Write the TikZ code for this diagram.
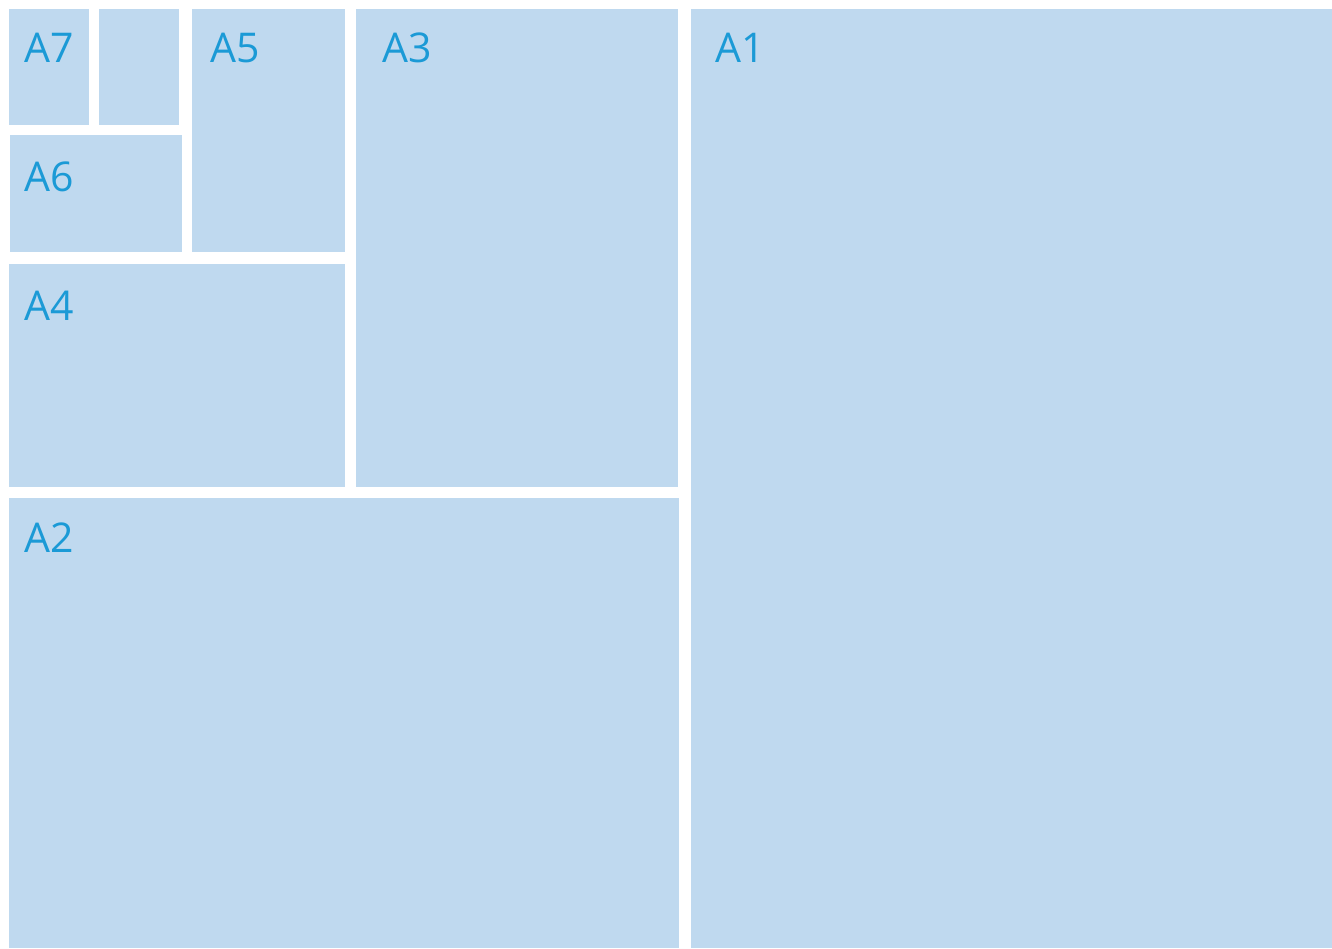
\documentclass[tikz,border=0pt]{standalone}
\usepackage{fontspec}
\setmainfont{Open Sans}
\definecolor{boxfill}{HTML}{BFD9EF}
\definecolor{labelc}{HTML}{1B9AD6}
\begin{document}
\begin{tikzpicture}[x=1pt,y=-1pt,
  cell/.style={fill=boxfill,draw=none},
  lab/.style={anchor=base west,inner sep=0pt,text=labelc,font=\fontsize{41}{41}\selectfont}]
\useasboundingbox (0,0) rectangle (1332,948);
\fill[white] (0,0) rectangle (1332,948);
\path[cell] (9,9) rectangle (89,125);
\path[cell] (99,9) rectangle (179,125);
\path[cell] (10,135) rectangle (182,252);
\path[cell] (192,9) rectangle (345,252);
\path[cell] (9,264) rectangle (345,487);
\path[cell] (356,9) rectangle (678,487);
\path[cell] (9,498) rectangle (679,948);
\path[cell] (691,9) rectangle (1332,948);
\node[lab] (a7) at (24,62) {A7};
\node[lab] (a6) at (24,191) {A6};
\node[lab] (a5) at (210,62) {A5};
\node[lab] (a3) at (382,62) {A3};
\node[lab] (a1) at (715,62) {A1};
\node[lab] (a4) at (24,320) {A4};
\node[lab] (a2) at (24,552) {A2};
\end{tikzpicture}
\end{document}
